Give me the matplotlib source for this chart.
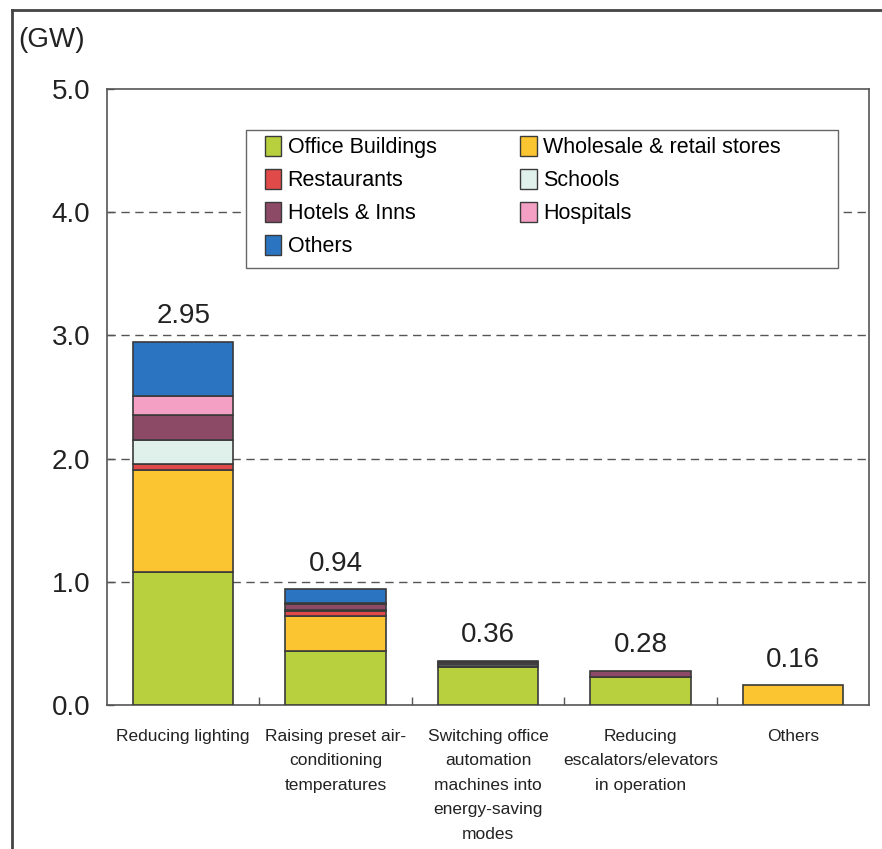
import matplotlib
matplotlib.use("Agg")
import matplotlib.pyplot as plt
from matplotlib.patches import Patch, Rectangle
from matplotlib.lines import Line2D
import numpy as np

plt.rcParams['font.family'] = ['Liberation Sans', 'DejaVu Sans']

measures = [
    "Reducing lighting",
    "Raising preset air-\nconditioning\ntemperatures",
    "Switching office\nautomation\nmachines into\nenergy-saving\nmodes",
    "Reducing\nescalators/elevators\nin operation",
    "Others",
]
totals = [2.95, 0.94, 0.36, 0.28, 0.16]

sectors = ["Office Buildings", "Wholesale & retail stores", "Restaurants",
           "Schools", "Hotels & Inns", "Hospitals", "Others"]
office = [1.08, 0.44, 0.31, 0.23, 0.00]
wholesale = [0.83, 0.28, 0.00, 0.00, 0.16]
restaurants = [0.05, 0.04, 0.01, 0.00, 0.00]
schools = [0.19, 0.01, 0.01, 0.00, 0.00]
hotels = [0.20, 0.05, 0.02, 0.05, 0.00]
hospitals = [0.16, 0.01, 0.00, 0.00, 0.00]
others = [0.44, 0.11, 0.01, 0.00, 0.00]
series = [office, wholesale, restaurants, schools, hotels, hospitals, others]
colors = ["#b8cf3e", "#fbc431", "#e04a48", "#e0f0ea", "#8c4a66", "#f4a0c4", "#2a74c2"]

fig = plt.figure(figsize=(8.82, 8.49), dpi=100)
ax = fig.add_axes([107 / 882, 1 - 705 / 849, 762 / 882, 616 / 849])

x = np.arange(len(measures))
bottom = np.zeros(len(measures))
for vals, col in zip(series, colors):
    v = np.array(vals)
    mask = v > 0
    ax.bar(x[mask], v[mask], width=0.66, bottom=bottom[mask], color=col,
           edgecolor="#3a3a3a", linewidth=1.2, zorder=3)
    bottom += v

for xi, t in zip(x, totals):
    ax.annotate(f"{t:.2f}", (xi, t), xytext=(0, 9), textcoords="offset points",
                ha="center", va="bottom", fontsize=20, color="#222222")

ax.set_xlim(-0.5, len(measures) - 0.5)
ax.set_ylim(0, 5)
ax.set_yticks(np.arange(0, 5.01, 1.0))
ax.set_yticklabels([f"{v:.1f}" for v in np.arange(0, 5.01, 1.0)], fontsize=20, color="#222222")
for yv in [1, 2, 3, 4]:
    ax.axhline(yv, color="#555555", linewidth=1.0, linestyle=(0, (6, 4)), zorder=1)

ax.tick_params(axis="y", direction="in", length=5, width=1, color="#555555", pad=12)
ax.set_xticks(x)
ax.set_xticklabels(measures, fontsize=12.5, color="#222222", linespacing=1.8)
ax.tick_params(axis="x", length=0, pad=17)
# small inside ticks between categories
ax.set_xticks(np.arange(0.5, len(measures) - 0.5, 1.0), minor=True)
ax.tick_params(axis="x", which="minor", direction="in", length=6, width=1, color="#555555")

for s in ax.spines.values():
    s.set_color("#555555")
    s.set_linewidth(1.2)

# legend box drawn separately so its padding can be set freely
box = Rectangle((0.1824, 0.7094), 0.9593 - 0.1824, 0.9334 - 0.7094, transform=ax.transAxes,
                facecolor="white", edgecolor="#666666", linewidth=1.0, zorder=4)
ax.add_patch(box)

# legend laid out row by row
order = [0, 2, 4, 6, 1, 3, 5]
handles = [Patch(facecolor=colors[i], edgecolor="#3a3a3a", linewidth=1.0) for i in order]
labels = [sectors[i] for i in order]
leg = ax.legend(handles, labels, ncol=2, loc="upper left",
                bbox_to_anchor=(0.2073, 0.924), borderaxespad=0, borderpad=0,
                fontsize=15.5, frameon=False,
                handlelength=0.75, handleheight=1.05, handletextpad=0.3,
                columnspacing=3.9, labelspacing=0.5)
leg.set_zorder(5)

fig.text(18 / 882, 1 - 27 / 849, "(GW)", fontsize=20, ha="left", va="top", color="#222222")

# outer frame
fig.add_artist(Line2D([12 / 882, 12 / 882], [0, 1 - 10 / 849], transform=fig.transFigure,
                      color="#444444", linewidth=2))
fig.add_artist(Line2D([12 / 882, 1], [1 - 10 / 849, 1 - 10 / 849], transform=fig.transFigure,
                      color="#444444", linewidth=2))

fig.savefig("out.png", dpi=100, facecolor="white")
